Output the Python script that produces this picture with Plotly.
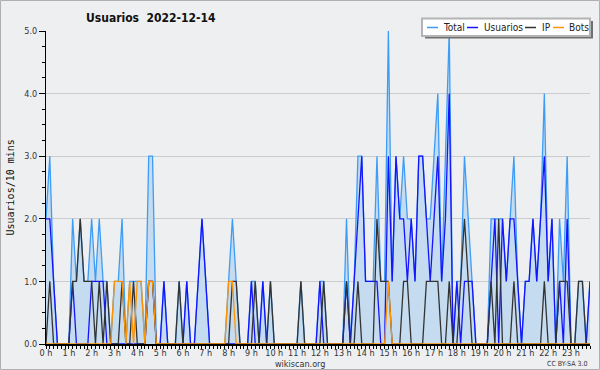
import plotly.graph_objects as go

# 10-minute slots over the day (index 0..143)
slots = list(range(144))
hours = list(range(24))
hour_labels = [f"{h} h" for h in hours]

usuarios = [2,2,1,0,0,0,0,1,0,0, 0,0,1,1,1,1,0,0,0,0,
            0,0,0,0,0,0,0,1,1,0, 0,1,0,0,0,0,0,1,0,0,
            1,2,1,0,0,0,0,0,0,0, 0,0,0,0,1,0,0,1,0,0,
            0,0,0,0,0,0,0,0,0,0, 0,0,1,0,0,0,0,0,0,1,
            0,1,2,3,1,1,1,1,0,0, 3,1,3,2,2,1,2,1,3,3,
            2,1,2,3,1,2,4,0,1,0, 1,1,1,0,0,0,0,1,2,0,
            2,1,2,2,1,0,1,1,2,1, 2,3,1,2,0,1,0,2,0,0,
            0,0,0,1]
ip = [0,1,0,0,0,0,0,1,1,2, 1,1,1,0,1,0,1,0,0,0,
      1,0,0,1,0,0,0,1,1,0, 0,0,0,0,0,1,0,0,0,0,
      0,0,0,0,0,0,0,0,0,1, 1,0,0,0,0,1,0,0,0,1,
      0,0,0,0,0,0,0,1,0,0, 0,0,0,1,0,0,0,0,0,1,
      0,0,1,0,0,0,0,2,1,1, 1,0,0,0,1,1,0,0,0,0,
      1,1,1,1,0,0,1,0,0,1, 2,1,0,0,0,0,0,1,0,2,
      0,0,0,1,0,0,0,0,0,0, 0,1,0,0,0,1,1,1,0,0,
      1,1,0,0]
bots = [0,0,0,0,0,0,0,0,0,0, 0,0,0,0,0,0,0,0,1,1,
        1,0,1,0,1,1,0,1,1,0, 0,0,0,0,0,0,0,0,0,0,
        0,0,0,0,0,0,0,0,1,1, 0,0,0,0,0,0,0,0,0,0,
        0,0,0,0,0,0,0,0,0,0, 0,0,0,0,0,0,0,0,0,0,
        0,0,0,0,0,0,0,0,0,0, 1,0,0,0,0,0,0,0,0,0,
        0,0,0,0,0,0,0,0,0,0, 0,0,0,0,0,0,0,0,0,0,
        0,0,0,0,0,0,0,0,0,0, 0,0,0,0,0,0,0,0,0,0,
        0,0,0,0]
total = [2,3,1,0,0,0,0,2,1,2, 1,1,2,1,2,1,1,0,1,1,
         2,0,1,1,1,1,0,3,3,0, 0,1,0,0,0,1,0,1,0,0,
         1,2,1,0,0,0,0,0,1,2, 1,0,0,0,1,1,0,1,0,1,
         0,0,0,0,0,0,0,1,0,0, 0,0,1,1,0,0,0,0,0,2,
         0,1,3,3,1,1,1,3,1,1, 5,1,3,2,3,2,2,1,3,3,
         2,2,3,4,1,3,5,0,1,1, 3,2,1,0,0,0,0,2,2,2,
         2,1,2,3,1,0,1,1,2,1, 2,4,1,2,0,2,1,3,0,0,
         1,1,0,1]

names = ["Total", "Usuarios", "IP", "Bots"]
colors = ["#3d9cf5", "#1414ff", "#333333", "#ff9400"]
series = [total, usuarios, ip, bots]

x = [s / 6 for s in slots]

fig = go.Figure()
for i, (nm, col, vals) in enumerate(zip(names, colors, series)):
    fig.add_trace(go.Scatter(
        x=x, y=vals, name=nm, mode="lines",
        line=dict(color=col, width=1.3),
        fill="tozeroy" if i == 0 else None,
        fillcolor="#c5dcf0" if i == 0 else None,
        showlegend=False, hoverinfo="skip",
    ))

L, R, T, B = 46, 10, 31, 26
W, H = 600, 370
pw, ph = W - L - R, H - T - B

def px(xp):
    return (xp - L) / pw

def py(yp):
    return (H - B - yp) / ph

shapes = [
    # outer frame
    dict(type="rect", xref="paper", yref="paper",
         x0=px(0.5), x1=px(599.5), y0=py(369.5), y1=py(0.5),
         line=dict(color="#b0b0b0", width=1), layer="below"),
    # legend shadow
    dict(type="rect", xref="paper", yref="paper",
         x0=px(425), x1=px(593), y0=py(38.5), y1=py(21),
         fillcolor="#707070", line=dict(width=0)),
    # legend box
    dict(type="rect", xref="paper", yref="paper",
         x0=px(422), x1=px(590), y0=py(36), y1=py(18.5),
         fillcolor="white", line=dict(color="#b4b4b4", width=2)),
]
annotations = []
leg_font = "DejaVu Sans Condensed, Liberation Sans Narrow, Liberation Sans"
leg_pos = [(427, 441), (467, 482), (525, 540), (553, 567)]
for (lx, tx), nm, col in zip(leg_pos, names, colors):
    shapes.append(dict(type="line", xref="paper", yref="paper",
                       x0=px(lx), x1=px(lx + 11), y0=py(27.5), y1=py(27.5),
                       line=dict(color=col, width=1.5)))
    annotations.append(dict(xref="paper", yref="paper", x=px(tx), y=py(27.5),
                            text=nm, showarrow=False, xanchor="left", yanchor="middle",
                            font=dict(family=leg_font, size=10, color="#222")))

annotations += [
    dict(xref="paper", yref="paper", x=px(10), y=0.5, text="Usuarios/10 mins",
         textangle=-90, showarrow=False, xanchor="center", yanchor="middle",
         font=dict(family="DejaVu Sans Mono", size=10, color="#111")),
    dict(xref="paper", yref="paper", x=px(300), y=py(364.5), text="wikiscan.org",
         showarrow=False, xanchor="center", yanchor="middle",
         font=dict(family=leg_font, size=9, color="#333")),
    dict(xref="paper", yref="paper", x=px(589), y=py(364.5), text="CC BY-SA 3.0",
         showarrow=False, xanchor="right", yanchor="middle",
         font=dict(family=leg_font, size=7, color="#333")),
    dict(xref="paper", yref="paper", x=px(84), y=py(18), text="<b>Usuarios&nbsp;&nbsp;2022-12-14</b>",
         showarrow=False, xanchor="left", yanchor="middle",
         font=dict(family="DejaVu Sans Condensed, DejaVu Sans", size=12, color="#111")),
]

fig.update_layout(
    width=W, height=H,
    margin=dict(l=L, r=R, t=T, b=B),
    paper_bgcolor="#eeeff0", plot_bgcolor="#eeeff0",
    shapes=shapes, annotations=annotations,
    showlegend=False,
    xaxis=dict(range=[0, 143 / 6], tickvals=hours, ticktext=hour_labels,
               showgrid=False, zeroline=False, showline=True, linecolor="black", linewidth=2,
               ticks="outside", ticklen=3, tickcolor="black", ticklabelstandoff=-4,
               tickfont=dict(family=leg_font, size=9, color="#333"),
               minor=dict(dtick=1 / 6, ticklen=3, tickcolor="black", ticks="outside", showgrid=False)),
    yaxis=dict(range=[0, 5], dtick=1, tickformat=".1f",
               showgrid=True, gridcolor="#cccccc", gridwidth=1, zeroline=False,
               showline=True, linecolor="black", linewidth=1,
               ticks="outside", ticklen=6, tickcolor="black",
               tickfont=dict(family=leg_font, size=9, color="#333"),
               minor=dict(dtick=0.25, ticklen=3, tickcolor="black", ticks="outside", showgrid=False)),
)

fig.write_html("out.html", config={"displayModeBar": False, "staticPlot": True},
               post_script="document.body.style.margin='0';document.body.style.overflow='hidden';")
